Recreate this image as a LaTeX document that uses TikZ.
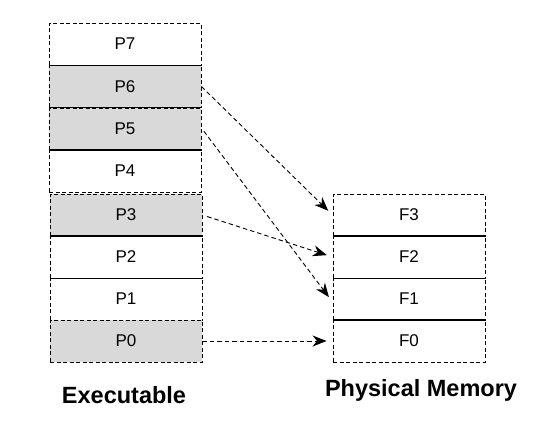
\documentclass[tikz,border=0pt]{standalone}
\usepackage{fontspec}
\setmainfont{Liberation Sans}
\usetikzlibrary{arrows.meta}
\begin{document}
\begin{tikzpicture}[x=1pt, y=-1pt,
    page/.style={draw, dashed, line width=0.9pt, dash pattern=on 4pt off 2.5pt, minimum width=152pt, minimum height=42pt, inner sep=0pt, font=\fontsize{17}{17}\selectfont},
    used/.style={page, fill=gray!30},
    map/.style={draw, dashed, line width=0.9pt, dash pattern=on 4.5pt off 3pt, -{Stealth[length=14pt, width=11pt]}, shorten >=6pt},
    sep/.style={line width=1.1pt},
    title/.style={font=\bfseries\fontsize{23.5}{23.5}\selectfont}]
    \useasboundingbox (0,0) rectangle (551,426);
    % Executable
    \node[page] (p7) at (125,44) {P7};
    \node[used] (p6) at (125,86.5) {P6};
    \node[used] (p5) at (125,129) {P5};
    \node[page] (p4) at (125,171) {P4};
    \node[used] (p3) at (126,215) {P3};
    \node[page] (p2) at (126,257) {P2};
    \node[page] (p1) at (126,299) {P1};
    \node[used] (p0) at (126,341) {P0};
    \draw[sep] (p6.north west) -- (p6.north east); \draw[sep] (p5.north west) -- (p5.north east);
    \draw[sep] (p4.north west) -- (p4.north east); \draw[sep] (p2.north west) -- (p2.north east);
    % Physical memory
    \node[page] (f3) at (409,215) {F3};
    \node[page] (f2) at (409,257) {F2};
    \node[page] (f1) at (409,299) {F1};
    \node[page] (f0) at (409,341) {F0};
    \draw[sep] (f2.north west) -- (f2.north east); \draw[sep] (f0.north west) -- (f0.north east);
    % Mapping
    \draw[map] (p6.east) -- (f3.west);
    \draw[map, shorten <=4pt] ([yshift=1pt]p5.east) -- ([yshift=-3pt]f1.west);
    \draw[map, shorten <=5pt] (p3.east) -- (f2.west);
    \draw[map] (p0.east) -- (f0.west);
    \node[title] (exe) at (124,395) {Executable};
    \node[title] (mem) at (421,390) {Physical Memory};
\end{tikzpicture}
\end{document}
